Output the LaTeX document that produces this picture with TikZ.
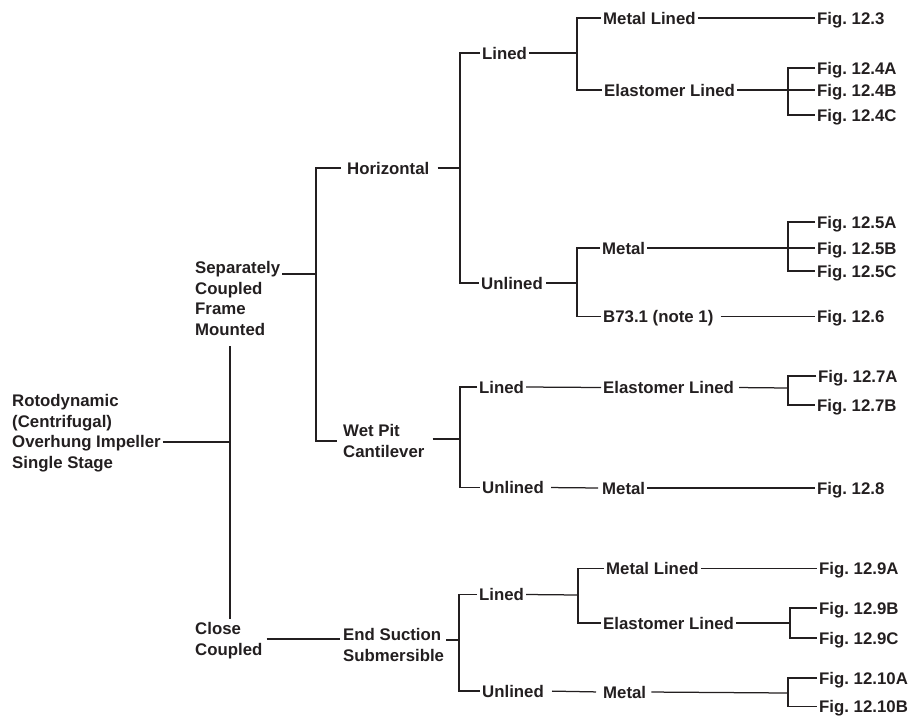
\documentclass[tikz,border=0pt]{standalone}
\usepackage{fontspec}
\setmainfont{Liberation Sans}
\definecolor{ink}{RGB}{35,31,32}
\begin{document}
\frenchspacing
\begin{tikzpicture}[x=1pt,y=-1pt,
  lbl/.style={anchor=west, inner xsep=2pt, inner ysep=0pt, text height=12pt, text depth=0pt,
    font=\bfseries\fontsize{16.8}{20.5}\selectfont\frenchspacing, align=left, text=ink},
  ln/.style={line width=1.25pt, draw=ink}]
\useasboundingbox (0,0) rectangle (921,716);
% level 0-2 (multi-line nodes are placed by their last line)
\node[lbl] (R) at (10,462) {Rotodynamic\\(Centrifugal)\\Overhung Impeller\\Single Stage};
\node[lbl] (S) at (193,329) {Separately\\Coupled\\Frame\\Mounted};
\node[lbl] (C) at (193,649) {Close\\Coupled};
\node[lbl] (H) at (345,168) {Horizontal};
\node[lbl] (W) at (341,451) {Wet Pit\\Cantilever};
\node[lbl] (E) at (341,655) {End Suction\\Submersible};
% level 3
\node[lbl] (HL) at (480,53) {Lined};
\node[lbl] (HU) at (479,283) {Unlined};
\node[lbl] (WL) at (477,387) {Lined};
\node[lbl] (WU) at (480,487.5) {Unlined};
\node[lbl] (EL) at (477,594.5) {Lined};
\node[lbl] (EU) at (480,691) {Unlined};
% level 4
\node[lbl] (HLM) at (601,18) {Metal Lined};
\node[lbl] (HLE) at (602,90) {Elastomer Lined};
\node[lbl] (HUM) at (600,248) {Metal};
\node[lbl] (HUB) at (601,316.5) {B73.1 (note 1)};
\node[lbl] (WLE) at (601,387.5) {Elastomer Lined};
\node[lbl] (WUM) at (600,488) {Metal};
\node[lbl] (ELM) at (604,568.5) {Metal Lined};
\node[lbl] (ELE) at (601,623) {Elastomer Lined};
\node[lbl] (EUM) at (601,692) {Metal};
% figures
\node[lbl] (f3) at (815,18) {Fig. 12.3};
\node[lbl] (f4a) at (815,68) {Fig. 12.4A};
\node[lbl] (f4b) at (815,90) {Fig. 12.4B};
\node[lbl] (f4c) at (815,115) {Fig. 12.4C};
\node[lbl] (f5a) at (815,222) {Fig. 12.5A};
\node[lbl] (f5b) at (815,248) {Fig. 12.5B};
\node[lbl] (f5c) at (815,271) {Fig. 12.5C};
\node[lbl] (f6) at (815,316.5) {Fig. 12.6};
\node[lbl] (f7a) at (816,376) {Fig. 12.7A};
\node[lbl] (f7b) at (815,405) {Fig. 12.7B};
\node[lbl] (f8) at (815,488) {Fig. 12.8};
\node[lbl] (f9a) at (817,568.5) {Fig. 12.9A};
\node[lbl] (f9b) at (817,608) {Fig. 12.9B};
\node[lbl] (f9c) at (817,638) {Fig. 12.9C};
\node[lbl] (f10a) at (817,678) {Fig. 12.10A};
\node[lbl] (f10b) at (817,706.5) {Fig. 12.10B};
% fork coordinates
\coordinate (j0) at (230,442);
\coordinate (j0b) at (230,619);
\coordinate (kS) at (316,274);
\coordinate (wj) at (337,441);
\coordinate (kH) at (460,168);
\coordinate (kHL) at (577,53);
\coordinate (kHU) at (577,283);
\coordinate (kHLE) at (788,90);
\coordinate (kHUM) at (788,248);
\coordinate (kW) at (460,439);
\coordinate (kWLE) at (788,388);
\coordinate (cc) at (340,639);
\coordinate (kE) at (459,640);
\coordinate (kEL) at (578,595);
\coordinate (kELE) at (790,623);
\coordinate (kEUM) at (788,693);
% root
\draw[ln] (R.east |- j0) -- (j0);
\draw[ln, shorten <=11pt] (S.south -| j0) -- (j0b);
% separately coupled
\draw[ln] (S.east |- kS) -- (kS);
\draw[ln, shorten <=4pt] (H.west) -| (kS |- wj) -- (wj);
\draw[ln, shorten <=6pt] (H.east) -- (kH);
\draw[ln] (HL.west) -| (kH |- HU.west) -- (HU.west);
\draw[ln] (HL.east) -- (kHL);
\draw[ln] (HLM.west) -| (kHL |- HLE.west) -- (HLE.west);
\draw[ln] (HLM.east) -- (f3.west);
\draw[ln] (HLE.east) -- (f4b.west);
\draw[ln] (f4a.west) -| (kHLE |- f4c.west) -- (f4c.west);
\draw[ln, shorten <=1pt] (HU.east) -- (kHU);
\draw[ln] (HUM.west) -| (kHU |- HUB.west) -- (HUB.west);
\draw[ln] (HUM.east) -- (f5b.west);
\draw[ln] (f5a.west) -| (kHUM |- f5c.west) -- (f5c.west);
\draw[ln, shorten <=5pt] (HUB.east) -- (f6.west);
% wet pit
\draw[ln, shorten <=6pt] (W.east |- kW) -- (kW);
\draw[ln] (WL.west) -| (kW |- WU.west) -- (WU.west);
\draw[ln] (WL.east) -- (WLE.west);
\draw[ln, shorten <=3pt] (WLE.east) -- (kWLE);
\draw[ln] (f7a.west) -| (kWLE |- f7b.west) -- (f7b.west);
\draw[ln, shorten <=5pt, shorten >=2pt] (WU.east) -- (WUM.west);
\draw[ln] (WUM.east) -- (f8.west);
% close coupled
\draw[ln, shorten <=2pt] (C.east |- cc) -- (cc);
\draw[ln] (E.east |- kE) -- (kE);
\draw[ln] (EL.west) -| (kE |- EU.west) -- (EU.west);
\draw[ln] (EL.east) -- (kEL);
\draw[ln] (ELM.west) -| (kEL |- ELE.west) -- (ELE.west);
\draw[ln] (ELM.east) -- (f9a.west);
\draw[ln] (ELE.east) -- (kELE);
\draw[ln] (f9b.west) -| (kELE |- f9c.west) -- (f9c.west);
\draw[ln, shorten <=6pt, shorten >=5pt] (EU.east) -- (EUM.west);
\draw[ln, shorten <=3pt] (EUM.east) -- (kEUM);
\draw[ln] (f10a.west) -| (kEUM |- f10b.west) -- (f10b.west);
\end{tikzpicture}
\end{document}
